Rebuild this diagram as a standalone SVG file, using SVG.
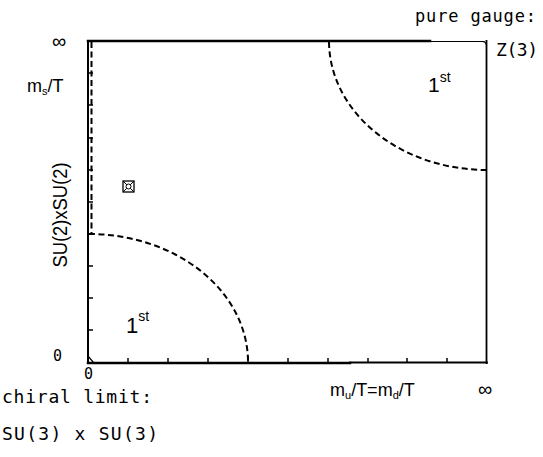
<svg xmlns="http://www.w3.org/2000/svg" width="543" height="457" viewBox="0 0 543 457">
<style>
.t{font-family:"DejaVu Sans Mono","Liberation Mono",monospace;fill:#000}
.s{font-family:"Liberation Sans",Arial,sans-serif;fill:#000}
.ax{stroke:#000;fill:none;stroke-linecap:square}
.tick{stroke:#000;stroke-width:1.5}
.dash{stroke:#000;fill:none;stroke-width:2;stroke-dasharray:6 3.5}
</style>
<rect width="543" height="457" fill="#fff"/>
<g id="frame">
  <line class="ax" x1="88" y1="41" x2="430" y2="41" stroke-width="2.5"/>
  <line class="ax" x1="430" y1="41.5" x2="484" y2="41.5" stroke-width="1.2"/>
  <path class="ax" d="M482,41.5 Q486,41.5 486.5,45" stroke-width="1.2"/>
  <line class="ax" x1="486.5" y1="41" x2="486.5" y2="363" stroke-width="1.8"/>
  <line class="ax" x1="88" y1="41" x2="88" y2="363" stroke-width="2"/>
  <line class="ax" x1="88" y1="363" x2="350" y2="363" stroke-width="2.5"/>
  <line class="ax" x1="350" y1="362.5" x2="487" y2="362.5" stroke-width="1.8"/>
  <path d="M88,356 L88,363 L94,363 Z" fill="none" stroke="#000" stroke-width="1.3"/>
</g>
<g id="ticks">
  <line class="tick" x1="88" y1="73" x2="93" y2="73"/>
  <line class="tick" x1="88" y1="105" x2="93" y2="105"/>
  <line class="tick" x1="88" y1="138" x2="93" y2="138"/>
  <line class="tick" x1="88" y1="170" x2="93" y2="170"/>
  <line class="tick" x1="88" y1="202" x2="93" y2="202"/>
  <line class="tick" x1="88" y1="266" x2="93" y2="266"/>
  <line class="tick" x1="88" y1="298" x2="93" y2="298"/>
  <line class="tick" x1="88" y1="330" x2="93" y2="330"/>
  <line class="tick" x1="128" y1="363" x2="128" y2="358"/>
  <line class="tick" x1="168" y1="363" x2="168" y2="358"/>
  <line class="tick" x1="208" y1="363" x2="208" y2="358"/>
  <line class="tick" x1="248" y1="363" x2="248" y2="356"/>
  <line class="tick" x1="288" y1="363" x2="288" y2="358"/>
  <line class="tick" x1="328" y1="363" x2="328" y2="358"/>
  <line class="tick" x1="368" y1="363" x2="368" y2="358"/>
  <line class="tick" x1="407" y1="363" x2="407" y2="358"/>
  <line class="tick" x1="447" y1="363" x2="447" y2="358"/>
</g>
<g id="connectors">
  <line class="dash" x1="91.5" y1="42" x2="91.5" y2="233" stroke-width="1.5"/>
  <path class="dash" d="M329,42 A158,129 0 0 0 487,170"/>
  <path class="dash" d="M89,234 A159,128 0 0 1 248,362"/>
</g>
<g id="marker">
  <rect x="123" y="181" width="11" height="11" fill="none" stroke="#000" stroke-width="1.3"/>
  <path d="M123,181 L134,192 M134,181 L123,192" stroke="#000" stroke-width="1"/>
  <circle cx="128.5" cy="186.5" r="2.5" fill="#fff" stroke="#000" stroke-width="1"/>
</g>
<g id="labels">
  <text class="t" x="415" y="22" font-size="17" textLength="121" lengthAdjust="spacing">pure gauge:</text>
  <text class="t" x="496" y="56" font-size="18" textLength="42" lengthAdjust="spacing">Z(3)</text>
  <text class="s" x="52" y="48" font-size="20">∞</text>
  <text class="s" x="27" y="92" font-size="18">m<tspan font-size="11" dy="3">s</tspan><tspan dy="-3">/T</tspan></text>
  <text class="s" transform="translate(67,215) rotate(-90)" x="0" y="0" font-size="20" text-anchor="middle" textLength="105" lengthAdjust="spacingAndGlyphs">SU(2)xSU(2)</text>
  <text class="s" x="428" y="92" font-size="21">1<tspan font-size="14" dy="-10">st</tspan></text>
  <text class="s" x="126" y="333" font-size="22">1<tspan font-size="14" dy="-12">st</tspan></text>
  <text class="t" x="53" y="361" font-size="15">0</text>
  <text class="t" x="84" y="379" font-size="15">0</text>
  <text class="t" x="2" y="403" font-size="18" textLength="150" lengthAdjust="spacing">chiral limit:</text>
  <text class="t" x="2" y="440" font-size="18" textLength="156" lengthAdjust="spacing">SU(3) x SU(3)</text>
  <text class="s" x="330" y="396" font-size="18">m<tspan font-size="11" dy="3">u</tspan><tspan dy="-3">/T=m</tspan><tspan font-size="11" dy="3">d</tspan><tspan dy="-3">/T</tspan></text>
  <text class="s" x="478" y="396" font-size="20">∞</text>
</g>
</svg>
